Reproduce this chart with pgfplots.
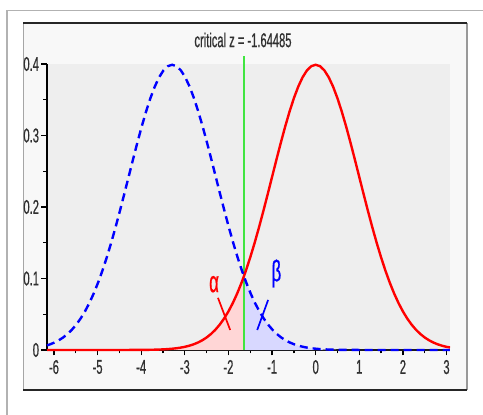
\documentclass[border=0pt]{standalone}
\usepackage{pgfplots}
\pgfplotsset{compat=1.18}
\usepackage{pgfplotstable}
\usepackage{fontspec}
\setmainfont{Liberation Sans}[FakeStretch=0.56, FakeBold=0.6]

\definecolor{panelbg}{HTML}{F8F8F8}
\definecolor{plotbg}{HTML}{EEEEEE}
\definecolor{alphafill}{HTML}{FFD6D6}
\definecolor{betafill}{HTML}{D8D8FF}
\definecolor{critgreen}{rgb}{0.25,0.9,0.25}
\definecolor{labelgray}{HTML}{303030}

% standard normal density under H0 (mean 0)
\pgfplotstableread{
x y
-6.16 0
-5.0 0.0000015
-4.5 0.000016
-4.0 0.000134
-3.9 0.000199
-3.8 0.000292
-3.7 0.000425
-3.6 0.000612
-3.5 0.000873
-3.4 0.001232
-3.3 0.001723
-3.2 0.002384
-3.1 0.003267
-3.0 0.004432
-2.9 0.005953
-2.8 0.007915
-2.7 0.010421
-2.6 0.013583
-2.5 0.017528
-2.4 0.022395
-2.3 0.028327
-2.2 0.035475
-2.1 0.043984
-2.0 0.053991
-1.9 0.065616
-1.8 0.078950
-1.7 0.094049
-1.64485 0.103136
-1.6 0.110921
-1.5 0.129518
-1.4 0.149727
-1.3 0.171369
-1.2 0.194186
-1.1 0.217852
-1.0 0.241971
-0.9 0.266085
-0.8 0.289692
-0.7 0.312254
-0.6 0.333225
-0.5 0.352065
-0.4 0.368270
-0.3 0.381388
-0.2 0.391043
-0.1 0.396953
0.0 0.398942
0.1 0.396953
0.2 0.391043
0.3 0.381388
0.4 0.368270
0.5 0.352065
0.6 0.333225
0.7 0.312254
0.8 0.289692
0.9 0.266085
1.0 0.241971
1.1 0.217852
1.2 0.194186
1.3 0.171369
1.4 0.149727
1.5 0.129518
1.6 0.110921
1.7 0.094049
1.8 0.078950
1.9 0.065616
2.0 0.053991
2.1 0.043984
2.2 0.035475
2.3 0.028327
2.4 0.022395
2.5 0.017528
2.6 0.013583
2.7 0.010421
2.8 0.007915
2.9 0.005953
3.0 0.004432
3.08 0.003474
}\nullcurve

% density under H1 (mean -3.2897)
\pgfplotstableread{
x y
-6.16 0.006485
-6.0897 0.007915
-5.9897 0.010421
-5.8897 0.013583
-5.7897 0.017528
-5.6897 0.022395
-5.5897 0.028327
-5.4897 0.035475
-5.3897 0.043984
-5.2897 0.053991
-5.1897 0.065616
-5.0897 0.078950
-4.9897 0.094049
-4.8897 0.110921
-4.7897 0.129518
-4.6897 0.149727
-4.5897 0.171369
-4.4897 0.194186
-4.3897 0.217852
-4.2897 0.241971
-4.1897 0.266085
-4.0897 0.289692
-3.9897 0.312254
-3.8897 0.333225
-3.7897 0.352065
-3.6897 0.368270
-3.5897 0.381388
-3.4897 0.391043
-3.3897 0.396953
-3.2897 0.398942
-3.1897 0.396953
-3.0897 0.391043
-2.9897 0.381388
-2.8897 0.368270
-2.7897 0.352065
-2.6897 0.333225
-2.5897 0.312254
-2.4897 0.289692
-2.3897 0.266085
-2.2897 0.241971
-2.1897 0.217852
-2.0897 0.194186
-1.9897 0.171369
-1.8897 0.149727
-1.7897 0.129518
-1.6897 0.110921
-1.64485 0.103136
-1.5897 0.094049
-1.4897 0.078950
-1.3897 0.065616
-1.2897 0.053991
-1.1897 0.043984
-1.0897 0.035475
-0.9897 0.028327
-0.8897 0.022395
-0.7897 0.017528
-0.6897 0.013583
-0.5897 0.010421
-0.4897 0.007915
-0.3897 0.005953
-0.2897 0.004432
-0.1897 0.003267
-0.0897 0.002384
0.0103 0.001723
0.1103 0.001232
0.2103 0.000873
0.3103 0.000612
0.4103 0.000425
0.5103 0.000292
0.6103 0.000199
0.7103 0.000134
1.2103 0.000016
1.7103 0.0000015
3.08 0
}\altcurve

\begin{document}
\begin{tikzpicture}
\useasboundingbox (0bp,0bp) rectangle (483bp,415bp);
% outer frame
\fill[white] (0bp,0bp) rectangle (483bp,415bp);
\draw[gray!60, line width=1.5bp] (7bp,0bp) -- (7bp,404.5bp) -- (483bp,404.5bp);
% inner panel
\fill[panelbg] (23bp,25bp) rectangle (467bp,392bp);
\draw[gray!70, line width=1bp] (23bp,25bp) -- (23bp,392bp);
\draw[gray!80, line width=1.5bp] (467bp,25bp) -- (467bp,392bp);
\draw[black!85, line width=2.2bp] (23bp,392bp) -- (467bp,392bp);
\draw[black!85, line width=2bp] (23bp,25bp) -- (467bp,25bp);
% title
\node[text=labelgray, font=\fontsize{20}{22}\selectfont] at (243bp,375bp) {critical z = -1.64485};

\begin{axis}[
  at={(47bp,65bp)}, anchor=south west,
  scale only axis, width=403bp, height=286bp,
  xmin=-6.16, xmax=3.08, ymin=0, ymax=0.4,
  axis background/.style={fill=plotbg},
  axis x line*=bottom, axis y line*=left,
  axis line style={black, line width=1.7bp},
  xtick={-6,-5,-4,-3,-2,-1,0,1,2,3},
  ytick={0,0.1,0.2,0.3,0.4},
  minor x tick num=1, minor y tick num=1,
  tick align=outside,
  major tick length=5.5bp, minor tick length=3.5bp,
  tick style={black, line width=1.3bp},
  every tick label/.append style={text=labelgray, font=\fontsize{20}{22}\selectfont},
  /pgf/number format/assume math mode=true,
  xticklabel style={yshift=-1bp},
  yticklabel style={xshift=1bp},
  clip=false,
]
% shaded error regions
\addplot[draw=none, fill=alphafill, restrict x to domain=-6.2:-1.6448] table[x=x,y=y] {\nullcurve} \closedcycle;
\addplot[draw=none, fill=betafill, restrict x to domain=-1.6449:3.1] table[x=x,y=y] {\altcurve} \closedcycle;
% critical value
\addplot[critgreen, line width=1.4bp] coordinates {(-1.64485,0) (-1.64485,0.411)};
% curves
\addplot[red, line width=2.4bp] table[x=x,y=y] {\nullcurve};
\addplot[blue, line width=2.4bp, dash pattern=on 8bp off 5bp] table[x=x,y=y] {\altcurve};
% error labels
\node[red, font=\fontsize{30}{32}\selectfont] at (axis cs:-2.33,0.092) {α};
\draw[red, line width=1.7bp] (axis cs:-2.24,0.073) -- (axis cs:-1.96,0.028);
\node[blue, font=\fontsize{30}{32}\selectfont] at (axis cs:-0.9,0.107) {β};
\draw[blue, line width=1.7bp] (axis cs:-1.09,0.070) -- (axis cs:-1.34,0.028);
\end{axis}
\end{tikzpicture}
\end{document}
